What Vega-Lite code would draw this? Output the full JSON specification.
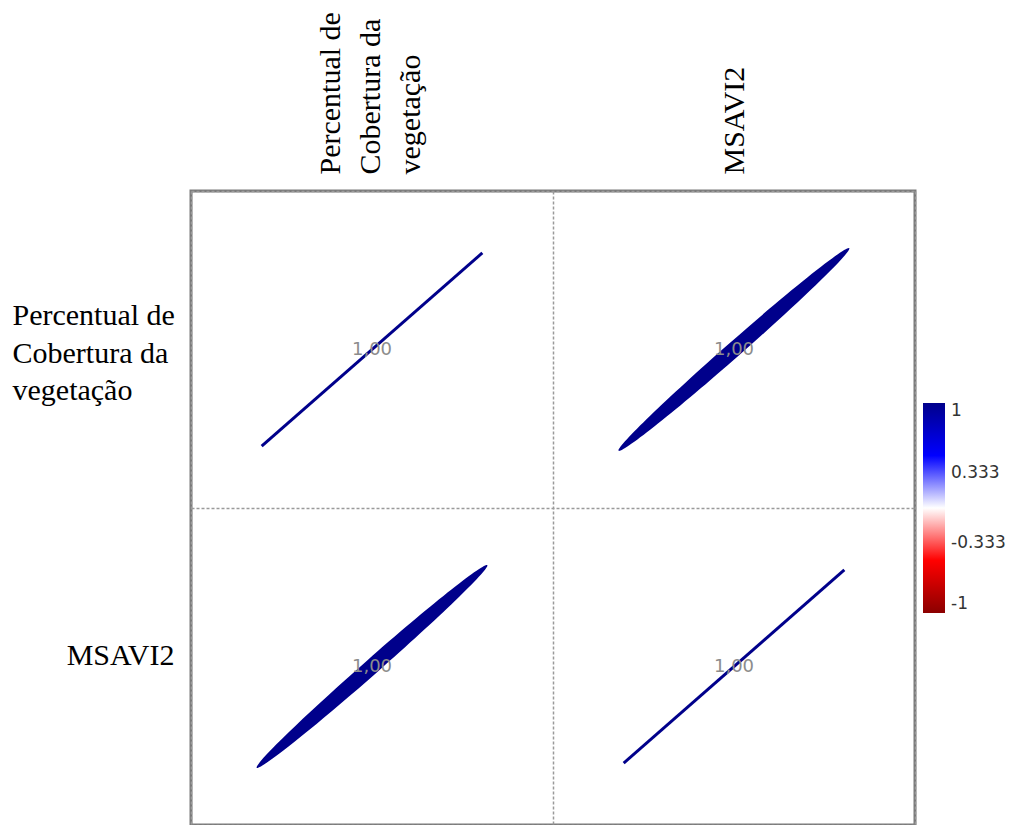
{
  "$schema": "https://vega.github.io/schema/vega-lite/v6.json",
  "width": 724,
  "height": 634,
  "autosize": {"type": "none"},
  "padding": {"left": 191, "top": 191, "right": 98, "bottom": 0},
  "background": "white",
  "config": {
    "view": {"stroke": "#7a7a7a", "strokeWidth": 3},
    "locale": {"number": {"decimal": ".", "thousands": ",", "grouping": [3], "currency": ["$", ""], "minus": "-"}}
  },
  "data": {
    "values": [
      {"row": "Percentual de Cobertura da vegetação", "col": "Percentual de Cobertura da vegetação", "r": 1.0},
      {"row": "Percentual de Cobertura da vegetação", "col": "MSAVI2", "r": 0.998},
      {"row": "MSAVI2", "col": "Percentual de Cobertura da vegetação", "r": 0.998},
      {"row": "MSAVI2", "col": "MSAVI2", "r": 1.0}
    ]
  },
  "encoding": {
    "x": {
      "field": "col",
      "type": "nominal",
      "scale": {"domain": ["Percentual de Cobertura da vegetação", "MSAVI2"], "paddingInner": 0, "paddingOuter": 0},
      "axis": {
        "orient": "top",
        "title": null,
        "domain": false,
        "ticks": false,
        "grid": true,
        "tickBand": "extent",
        "gridColor": "#9a9a9a",
        "gridWidth": 1.5,
        "gridDash": [3, 2],
        "labelAngle": 270,
        "labelFont": "Liberation Serif",
        "labelFontSize": 30,
        "labelColor": "#000000",
        "labelLineHeight": 40,
        "labelPadding": 17,
        "labelLimit": 400,
        "labelOffset": {"condition": {"test": "datum.value == 'MSAVI2'", "value": 0}, "value": -42},
        "labelExpr": "datum.label == 'Percentual de Cobertura da vegetação' ? ['Percentual de', 'Cobertura da', 'vegetação'] : datum.label"
      }
    },
    "y": {
      "field": "row",
      "type": "nominal",
      "scale": {"domain": ["Percentual de Cobertura da vegetação", "MSAVI2"], "paddingInner": 0, "paddingOuter": 0},
      "axis": {
        "orient": "left",
        "title": null,
        "domain": false,
        "ticks": false,
        "grid": true,
        "tickBand": "extent",
        "gridColor": "#9a9a9a",
        "gridWidth": 1.5,
        "gridDash": [3, 2],
        "labelFont": "Liberation Serif",
        "labelFontSize": 30,
        "labelColor": "#000000",
        "labelLineHeight": 37.5,
        "labelLimit": 400,
        "labelAlign": {"condition": {"test": "datum.value == 'MSAVI2'", "value": "right"}, "value": "left"},
        "labelPadding": {"condition": {"test": "datum.value == 'MSAVI2'", "value": 17}, "value": 179},
        "labelOffset": {"condition": {"test": "datum.value == 'MSAVI2'", "value": -11}, "value": -34},
        "labelExpr": "datum.label == 'Percentual de Cobertura da vegetação' ? ['Percentual de', 'Cobertura da', 'vegetação'] : datum.label"
      }
    }
  },
  "layer": [
    {
      "transform": [{"filter": "datum.row == datum.col"}],
      "mark": {
        "type": "point",
        "shape": "M-1,-0.0102L1,-0.0102L1,0.0102L-1,0.0102Z",
        "filled": true,
        "size": 86000,
        "angle": -41.2,
        "opacity": 1
      },
      "encoding": {
        "color": {
          "field": "r",
          "type": "quantitative",
          "scale": {"domain": [-1, -0.5, 0, 0.5, 1], "range": ["#8B0000", "#FF0000", "#FFFFFF", "#0000FF", "#00008B"], "interpolate": "rgb"},
          "legend": {
            "type": "gradient",
            "title": null,
            "orient": "none",
            "legendX": 732,
            "legendY": 212,
            "direction": "vertical",
            "gradientLength": 210,
            "gradientThickness": 22,
            "values": [1, 0.333, -0.333, -1],
            "format": ".3~f",
            "labelFont": "DejaVu Sans",
            "labelFontSize": 17,
            "labelColor": "#333333",
            "labelOffset": 6
          }
        }
      }
    },
    {
      "transform": [{"filter": "datum.row != datum.col"}],
      "mark": {
        "type": "point",
        "shape": "M-1,0A1,0.05 0 1,1 1,0A1,0.05 0 1,1 -1,0Z",
        "filled": true,
        "size": 94250,
        "angle": -41.3,
        "opacity": 1
      },
      "encoding": {
        "color": {"field": "r", "type": "quantitative"}
      }
    },
    {
      "mark": {"type": "text", "font": "DejaVu Sans", "fontSize": 18, "color": "#8c8c8c", "baseline": "middle", "align": "center"},
      "encoding": {
        "text": {"value": {"expr": "replace(format(datum.r, '.2f'), '.', ',')"}}
      }
    }
  ]
}
